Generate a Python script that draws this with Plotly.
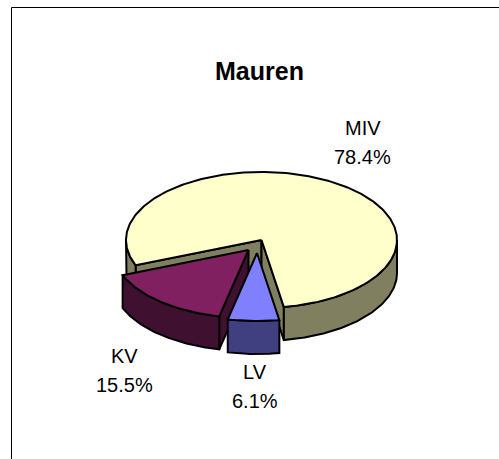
import numpy as np
import plotly.graph_objects as go

title = "Mauren"
categories = ["LV", "KV", "MIV"]
shares = [6.1, 15.5, 78.4]

top_colors = {"LV": "#8080FF", "KV": "#802060", "MIV": "#FFFFCC"}
wall_colors = {"LV": "#404080", "KV": "#401030", "MIV": "#808060"}
offsets = {"LV": (-4.5, 13), "KV": (-13, 10), "MIV": (0, 0)}
label_pos = {"LV": (255, 372), "KV": (124.5, 356), "MIV": (362.5, 128)}

CX, CY, RX, RY, DEPTH = 261.5, 240, 135.5, 68, 33
START = 170.5
LW = 2


def arc(a, b, dx=0, dy=0):
    n = max(int(abs(b - a)), 2) + 1
    t = np.radians(np.linspace(a, b, n))
    return CX + dx + RX * np.sin(t), CY + dy - RY * np.cos(t)


fig = go.Figure()


def poly(x, y, color):
    fig.add_trace(go.Scatter(
        x=np.append(x, x[0]), y=np.append(y, y[0]), mode="lines", fill="toself",
        fillcolor=color, line=dict(color="black", width=LW), hoverinfo="skip",
        showlegend=False))


def outer_wall(a, b, name, dx, dy):
    x1, y1 = arc(a, b, dx, dy)
    x2, y2 = arc(a, b, dx, dy + DEPTH)
    poly(np.r_[x1, x2[::-1]], np.r_[y1, y2[::-1]], wall_colors[name])


def cut_wall(t, name, dx, dy):
    ax, ay = CX + dx, CY + dy
    ex, ey = arc(t, t, dx, dy)
    ex, ey = ex[0], ey[0]
    poly(np.array([ax, ex, ex, ax]), np.array([ay, ey, ey + DEPTH, ay + DEPTH]),
         wall_colors[name])


def top(a, b, name, dx, dy):
    x, y = arc(a, b, dx, dy)
    poly(np.r_[CX + dx, x], np.r_[CY + dy, y], top_colors[name])


# angular extents derived from the shares (clockwise from the top)
spans = {}
angle = START
for c, s in zip(categories, shares):
    spans[c] = (angle, angle + s * 3.6)
    angle += s * 3.6

# MIV: back cut faces and outer walls first
a, b = spans["MIV"]
dx, dy = offsets["MIV"]
cut_wall(a, "MIV", dx, dy)
cut_wall(b, "MIV", dx, dy)
outer_wall(a, 270, "MIV", dx, dy)
outer_wall(450, b, "MIV", dx, dy)
top(a, b, "MIV", dx, dy)

# KV
a, b = spans["KV"]
dx, dy = offsets["KV"]
cut_wall(a, "KV", dx, dy)
outer_wall(a, b, "KV", dx, dy)
top(a, b, "KV", dx, dy)

# LV
a, b = spans["LV"]
dx, dy = offsets["LV"]
outer_wall(a, b, "LV", dx, dy)
top(a, b, "LV", dx, dy)

annotations = [dict(x=259.5, y=71, text=f"<b>{title}</b>", showarrow=False,
                    font=dict(family="Liberation Sans", size=25, color="black"))]
for c, s in zip(categories, shares):
    px, py = label_pos[c]
    annotations.append(dict(x=px, y=py, text=c, showarrow=False,
                            font=dict(family="Liberation Sans", size=20, color="black")))
    annotations.append(dict(x=px, y=py + 29, text=f"{s:.1f}%", showarrow=False,
                            font=dict(family="Liberation Sans", size=20, color="black")))

fig.update_layout(
    width=499, height=459, margin=dict(l=0, r=0, t=0, b=0),
    paper_bgcolor="white", plot_bgcolor="white", showlegend=False,
    xaxis=dict(range=[0, 499], visible=False, fixedrange=True),
    yaxis=dict(range=[459, 0], visible=False, fixedrange=True),
    annotations=annotations,
    shapes=[dict(type="rect", xref="x", yref="y", x0=11.5, y0=7.5, x1=600, y1=600,
                 line=dict(color="black", width=1), fillcolor="rgba(0,0,0,0)")],
)
fig.write_html("out.html", config=dict(displayModeBar=False),
               post_script="document.body.style.margin='0';document.documentElement.style.overflow='hidden';")
